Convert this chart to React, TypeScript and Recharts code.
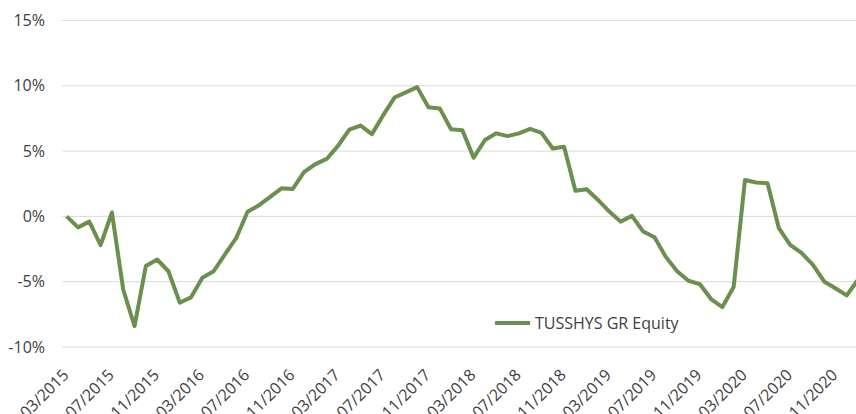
import React from 'react';
import { LineChart, Line, XAxis, YAxis, CartesianGrid, Legend } from 'recharts';

// monthly categories, 03/2015 .. 01/2021 (last point is cut off at the right edge)
const months = [
  '03/2015', '04/2015', '05/2015', '06/2015', '07/2015', '08/2015', '09/2015', '10/2015', '11/2015', '12/2015',
  '01/2016', '02/2016', '03/2016', '04/2016', '05/2016', '06/2016', '07/2016', '08/2016', '09/2016', '10/2016', '11/2016', '12/2016',
  '01/2017', '02/2017', '03/2017', '04/2017', '05/2017', '06/2017', '07/2017', '08/2017', '09/2017', '10/2017', '11/2017', '12/2017',
  '01/2018', '02/2018', '03/2018', '04/2018', '05/2018', '06/2018', '07/2018', '08/2018', '09/2018', '10/2018', '11/2018', '12/2018',
  '01/2019', '02/2019', '03/2019', '04/2019', '05/2019', '06/2019', '07/2019', '08/2019', '09/2019', '10/2019', '11/2019', '12/2019',
  '01/2020', '02/2020', '03/2020', '04/2020', '05/2020', '06/2020', '07/2020', '08/2020', '09/2020', '10/2020', '11/2020', '12/2020',
  '01/2021',
];

// TUSSHYS GR Equity, cumulative return in %
const tusshys = [
  0, -0.84, -0.4, -2.2, 0.3, -5.6, -8.4, -3.8, -3.3, -4.2,
  -6.6, -6.2, -4.7, -4.2, -2.9, -1.65, 0.35, 0.85, 1.5, 2.15, 2.1, 3.4,
  4.0, 4.4, 5.4, 6.65, 6.95, 6.3, 7.75, 9.1, 9.5, 9.9, 8.35, 8.27,
  6.67, 6.6, 4.5, 5.85, 6.36, 6.15, 6.36, 6.7, 6.4, 5.2, 5.34, 1.97,
  2.08, 1.26, 0.37, -0.4, 0.04, -1.16, -1.6, -3.1, -4.2, -4.93, -5.18, -6.33,
  -6.94, -5.4, 2.79, 2.6, 2.54, -0.9, -2.18, -2.8, -3.7, -4.98, -5.5, -6.05,
  -4.85,
];

const yTicks = [-10, -5, 0, 5, 10, 15];

const data = months.map((m, i) => ({ month: m, value: tusshys[i] }));

const FONT = '"Open Sans", sans-serif';
const TEXT = '#404040';
const GREEN = '#6b8f4e';

function DateTick({ x, y, payload }: any) {
  const tx = x + 3;
  const ty = y + 29;
  return (
    <text
      x={tx}
      y={ty}
      transform={`rotate(-45, ${tx}, ${ty})`}
      textAnchor="end"
      fill={TEXT}
      fontSize={16}
      fontFamily={FONT}
    >
      {payload.value}
    </text>
  );
}

function LegendBox() {
  return (
    <div style={{ display: 'flex', alignItems: 'center', fontFamily: FONT, fontSize: 16, color: TEXT }}>
      <span style={{ display: 'inline-block', width: 35, height: 4, background: GREEN, marginRight: 5 }} />
      <span>TUSSHYS GR Equity</span>
    </div>
  );
}

export default function App() {
  return (
    <div style={{ position: 'fixed', left: 0, top: 0, width: 856, height: 414, overflow: 'hidden', background: '#fff' }}>
      <LineChart width={860} height={414} data={data} margin={{ top: 20.5, right: 2, bottom: 0, left: 0 }}>
        <CartesianGrid vertical={false} stroke="#d9d9d9" />
        <XAxis
          dataKey="month"
          interval={3}
          axisLine={false}
          tickLine={false}
          tickSize={0}
          tickMargin={0}
          height={67}
          padding={{ left: 4.7, right: 0 }}
          tick={<DateTick />}
        />
        <YAxis
          width={62}
          domain={[-10, 15]}
          ticks={yTicks}
          axisLine={false}
          tickLine={false}
          tickMargin={11}
          tickFormatter={(v) => `${v}%`}
          tick={{ fill: TEXT, fontSize: 16, fontFamily: FONT }}
        />
        <Legend
          layout="horizontal"
          verticalAlign="middle"
          align="center"
          content={<LegendBox />}
          wrapperStyle={{ left: 495, top: 312, width: 'auto', height: 22 }}
        />
        <Line
          type="linear"
          dataKey="value"
          name="TUSSHYS GR Equity"
          stroke={GREEN}
          strokeWidth={4}
          strokeLinejoin="round"
          dot={false}
          activeDot={false}
          isAnimationActive={false}
        />
      </LineChart>
    </div>
  );
}
